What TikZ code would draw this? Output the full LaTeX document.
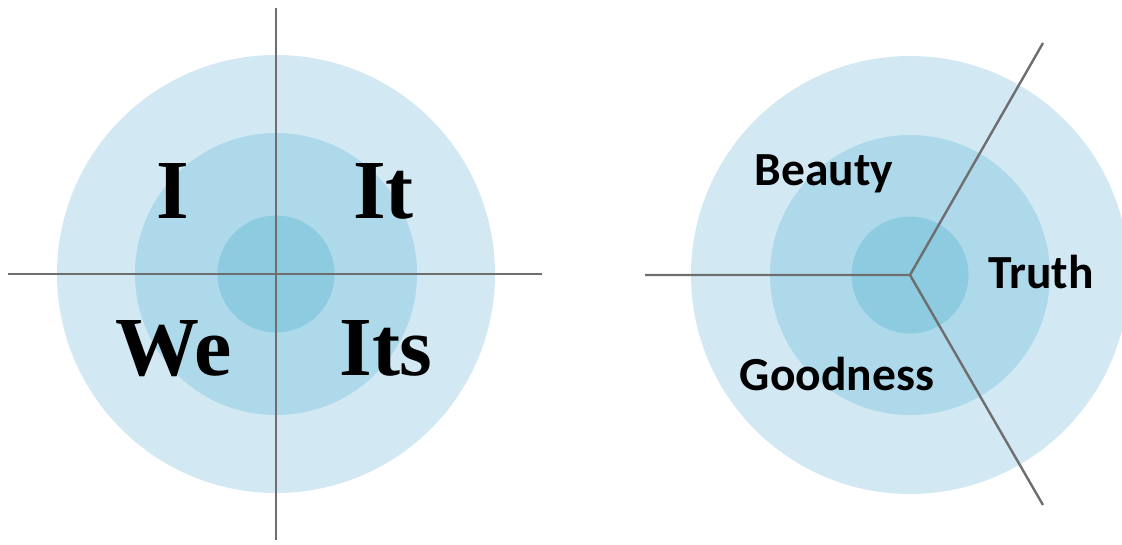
\documentclass[tikz,border=0pt]{standalone}
\usepackage{fontspec}
\setmainfont{Liberation Serif}
\newfontfamily\labelsans{Carlito}
\definecolor{ringout}{HTML}{D2E9F3}
\definecolor{ringmid}{HTML}{ADD9EA}
\definecolor{ringin}{HTML}{8CCBE0}
\definecolor{axisgray}{HTML}{6E6E6E}
\usepackage{tikz}

\begin{document}
\begin{tikzpicture}[x=1pt,y=-1pt,
    quadlabel/.style={anchor=base,font=\fontsize{84}{84}\selectfont\bfseries},
    valuelabel/.style={anchor=base,font=\fontsize{47.5}{47.5}\selectfont\labelsans\bfseries},
    axis/.style={draw=axisgray,line width=2.4pt}]
        \clip (0,0) rectangle (1122,544);
        \useasboundingbox (0,0) rectangle (1122,544);
        % left: four quadrants
        \coordinate (quad) at (276,274);
        \fill[ringout] (quad) circle[radius=219pt];
        \fill[ringmid] (quad) circle[radius=141pt];
        \fill[ringin] (quad) circle[radius=58.5pt];
        \coordinate (qtop) at (276,8);
        \coordinate (qbot) at (276,540);
        \coordinate (qleft) at (8,274);
        \coordinate (qright) at (542,274);
        \draw[axis] (qtop) -- (qbot);
        \draw[axis] (qleft) -- (qright);
        \node[quadlabel] (i) at (172.5,218) {I};
        \node[quadlabel] (it) at (383.5,218) {It};
        \node[quadlabel] (we) at (173.5,375) {We};
        \node[quadlabel] (its) at (386,375) {Its};
        % right: three values
        \coordinate (tri) at (910,275);
        \fill[ringout] (tri) circle[radius=219pt];
        \fill[ringmid] (tri) circle[radius=140pt];
        \fill[ringin] (tri) circle[radius=58.5pt];
        \coordinate (tleft) at (645,275);
        \coordinate (tup) at (1043,43);
        \coordinate (tdown) at (1043,505);
        \draw[axis] (tleft) -- (tri) -- (tup);
        \draw[axis] (tri) -- (tdown);
        \node[valuelabel] (beauty) at (824,185) {Beauty};
        \node[valuelabel] (truth) at (1041,288) {Truth};
        \node[valuelabel] (goodness) at (837,390) {Goodness};
      \end{tikzpicture}
\end{document}
